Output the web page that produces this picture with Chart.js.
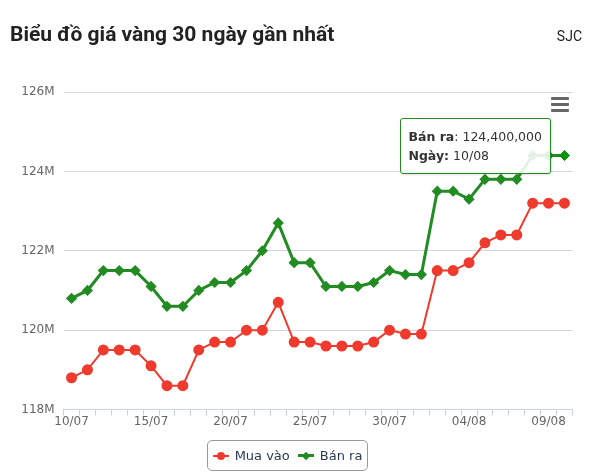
<!DOCTYPE html>
<html>
<head>
<meta charset="utf-8">
<script src="https://cdn.jsdelivr.net/npm/chart.js@4.4.1/dist/chart.umd.min.js"></script>
<style>
    body { margin: 0; background: #fff; }
    #wrap { position: relative; width: 598px; height: 475px; overflow: hidden; }
    #chartBox { position: absolute; left: 0; top: 0; width: 598px; height: 475px; }
    .title { position: absolute; left: 10px; top: 22px; font: bold 21px Roboto, sans-serif; color: #222; }
    .brand { position: absolute; right: 16px; top: 28px; font: 14px Roboto, sans-serif; color: #222; }
    .menu { position: absolute; left: 551px; top: 97px; width: 18px; }
    .menu span { display: block; height: 3px; background: #666; margin-bottom: 3px; border-radius: 1px; }
    #legend { position: absolute; left: 207px; top: 440px; width: 159px; height: 29px; border: 1px solid #999;
              border-radius: 5px; display: flex; align-items: center; justify-content: center; gap: 8px;
              font: 13px "DejaVu Sans", sans-serif; color: #2b3a55; }
    .item { display: flex; align-items: center; gap: 6px; }
    .icon { position: relative; width: 16px; height: 10px; }
    .icon .ln { position: absolute; left: 0; right: 0; top: 4px; height: 2px; }
    .icon .dot { position: absolute; left: 4px; top: 1px; width: 8px; height: 8px; border-radius: 50%; }
    .icon .dia { position: absolute; left: 5px; top: 2px; width: 6px; height: 6px; transform: rotate(45deg); }
    #tip { position: absolute; display: none; background: rgba(255,255,255,0.88); border: 1px solid #228b22;
           border-radius: 3px; padding: 8px 8px 8px 7px; font: 12.5px "DejaVu Sans", sans-serif; color: #333;
           line-height: 19px; white-space: nowrap; box-shadow: 1px 1px 2px rgba(0,0,0,0.12); }
</style>
</head>
<body>
<div id="wrap">
    <div id="chartBox"><canvas id="goldChart"></canvas></div>
    <div class="title">Biểu đồ giá vàng 30 ngày gần nhất</div>
    <div class="brand">SJC</div>
    <div class="menu"><span></span><span></span><span></span></div>
    <div id="legend"></div>
    <div id="tip"></div>
</div>
<script>
    // ngày (dd/MM)
    const ngay = ['10/07', '11/07', '12/07', '13/07', '14/07', '15/07', '16/07', '17/07', '18/07', '19/07',
                  '20/07', '21/07', '22/07', '23/07', '24/07', '25/07', '26/07', '27/07', '28/07', '29/07',
                  '30/07', '31/07', '01/08', '02/08', '03/08', '04/08', '05/08', '06/08', '07/08', '08/08',
                  '09/08', '10/08'];

    // giá, đơn vị triệu đồng
    const muaVao = [118.8, 119.0, 119.5, 119.5, 119.5, 119.1, 118.6, 118.6, 119.5, 119.7,
                    119.7, 120.0, 120.0, 120.7, 119.7, 119.7, 119.6, 119.6, 119.6, 119.7,
                    120.0, 119.9, 119.9, 121.5, 121.5, 121.7, 122.2, 122.4, 122.4, 123.2,
                    123.2, 123.2];
    const banRa = [120.8, 121.0, 121.5, 121.5, 121.5, 121.1, 120.6, 120.6, 121.0, 121.2,
                   121.2, 121.5, 122.0, 122.7, 121.7, 121.7, 121.1, 121.1, 121.1, 121.2,
                   121.5, 121.4, 121.4, 123.5, 123.5, 123.3, 123.8, 123.8, 123.8, 124.4,
                   124.4, 124.4];

    const yTicks = [118, 120, 122, 124, 126];

    const mauMua = '#ef3a2d';
    const mauBan = '#228b22';

    function tooltipNgoai(context) {
        const tip = document.getElementById('tip');
        const tt = context.tooltip;
        if (tt.opacity === 0 || !tt.dataPoints || !tt.dataPoints.length) {
            tip.style.display = 'none';
            return;
        }
        const p = tt.dataPoints[0];
        const giaTri = Math.round(p.parsed.y * 1000000).toLocaleString('en-US');
        tip.innerHTML = '<b>' + p.dataset.label + '</b>: ' + giaTri + '<br><b>Ngày:</b> ' + p.label;
        tip.style.display = 'block';
        tip.style.left = (tt.caretX - 164) + 'px';
        tip.style.top = (tt.caretY - 38) + 'px';
    }

    const ctx = document.getElementById('goldChart').getContext('2d');
    const chart = new Chart(ctx, {
        type: 'line',
        data: {
            labels: ngay,
            datasets: [{
                label: 'Mua vào',
                data: muaVao,
                borderColor: mauMua,
                backgroundColor: mauMua,
                borderWidth: 2,
                pointStyle: 'circle',
                pointRadius: 4.5,
                pointHoverRadius: 5,
                tension: 0
            }, {
                label: 'Bán ra',
                data: banRa,
                borderColor: mauBan,
                backgroundColor: mauBan,
                borderWidth: 3,
                pointStyle: 'rectRot',
                pointRadius: 3.5,
                pointHoverRadius: 5,
                tension: 0
            }]
        },
        options: {
            responsive: true,
            maintainAspectRatio: false,
            animation: false,
            layout: {
                padding: { left: 0, right: 25.6, top: 92, bottom: 35.5 }
            },
            interaction: { mode: 'nearest', intersect: true },
            plugins: {
                legend: { display: false },
                tooltip: { enabled: false, external: tooltipNgoai }
            },
            scales: {
                x: {
                    offset: true,
                    afterFit: function(scale) { scale.height = 30; },
                    border: { color: '#ccd6eb', width: 1 },
                    grid: {
                        offset: true,
                        drawOnChartArea: false,
                        drawTicks: true,
                        tickLength: 6,
                        color: '#c4d0e6'
                    },
                    ticks: {
                        autoSkip: false,
                        maxRotation: 0,
                        padding: -1,
                        color: '#666',
                        font: { family: 'DejaVu Sans', size: 12 },
                        callback: function(value, index) {
                            return index % 5 === 0 ? ngay[index] : '';
                        }
                    }
                },
                y: {
                    min: yTicks[0],
                    max: yTicks[yTicks.length - 1],
                    afterFit: function(scale) { scale.width = 63.6; },
                    afterBuildTicks: function(scale) {
                        scale.ticks = yTicks.map(v => ({ value: v }));
                    },
                    border: { display: false },
                    grid: { color: '#d6d6d6', drawTicks: false },
                    ticks: {
                        padding: 9,
                        color: '#666',
                        font: { family: 'DejaVu Sans', size: 12 },
                        callback: function(value) { return value + 'M'; }
                    }
                }
            }
        }
    });

    // chú thích
    const legend = document.getElementById('legend');
    chart.data.datasets.forEach(function(ds, i) {
        const item = document.createElement('div');
        item.className = 'item';
        const marker = i === 0 ? '<span class="dot"></span>' : '<span class="dia"></span>';
        item.innerHTML = '<span class="icon"><span class="ln"></span>' + marker + '</span>' + ds.label;
        item.querySelector('.ln').style.background = ds.borderColor;
        item.querySelector('.ln').style.height = ds.borderWidth + 'px';
        item.querySelector('.ln').style.top = (5 - ds.borderWidth / 2) + 'px';
        item.querySelector('.icon span:last-child').style.background = ds.borderColor;
        legend.appendChild(item);
    });

    // tooltip ngày cuối
    const last = ngay.length - 1;
    chart.setActiveElements([{ datasetIndex: 1, index: last }]);
    chart.tooltip.setActiveElements([{ datasetIndex: 1, index: last }], { x: 0, y: 0 });
    chart.update();
</script>
</body>
</html>
